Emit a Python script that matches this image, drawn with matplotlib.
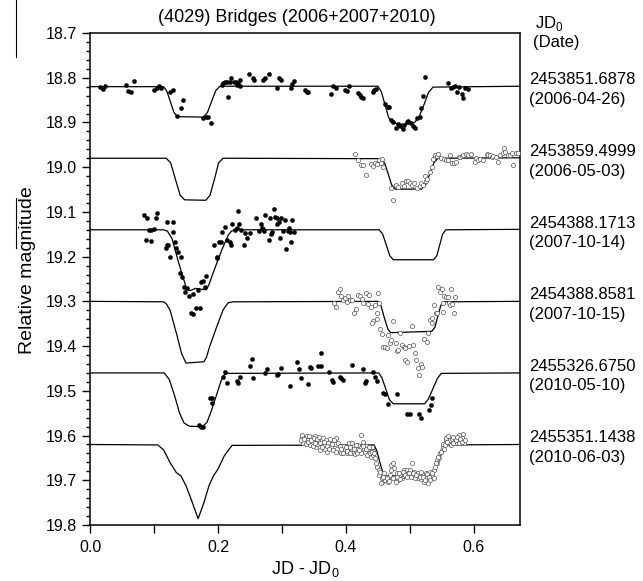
import matplotlib
matplotlib.use("Agg")
import matplotlib.pyplot as plt
from matplotlib.ticker import MultipleLocator, FixedLocator
from matplotlib.lines import Line2D

plt.rcParams['font.family'] = ['Liberation Sans', 'DejaVu Sans']
plt.rcParams['mathtext.fontset'] = 'custom'
plt.rcParams['mathtext.rm'] = 'Liberation Sans'

title = "(4029) Bridges (2006+2007+2010)"
jd_labels = ["2453851.6878", "2453859.4999", "2454388.1713", "2454388.8581", "2455326.6750", "2455351.1438"]
date_labels = ["(2006-04-26)", "(2006-05-03)", "(2007-10-14)", "(2007-10-15)", "(2010-05-10)", "(2010-06-03)"]
baselines = [18.82, 18.98, 19.14, 19.30, 19.46, 19.62]
filled = [True, False, True, False, True, False]

# model curves
c1_x = [0.000, 0.115, 0.120, 0.1255, 0.131, 0.136, 0.177, 0.1835, 0.190, 0.1965, 0.203, 0.450, 0.4555, 0.461, 0.4665, 0.472, 0.480, 0.490, 0.500, 0.508, 0.515, 0.522, 0.529, 0.536, 0.672]
c1_y = [18.820, 18.820, 18.830, 18.853, 18.877, 18.887, 18.888, 18.878, 18.853, 18.829, 18.819, 18.819, 18.832, 18.860, 18.888, 18.899, 18.903, 18.904, 18.903, 18.899, 18.885, 18.860, 18.833, 18.821, 18.819]
c2_x = [0.000, 0.119, 0.126, 0.1335, 0.141, 0.148, 0.181, 0.1875, 0.1945, 0.201, 0.208, 0.455, 0.4605, 0.466, 0.4715, 0.477, 0.518, 0.5245, 0.531, 0.5375, 0.544, 0.672]
c2_y = [18.980, 18.980, 18.990, 19.027, 19.063, 19.073, 19.074, 19.063, 19.027, 18.990, 18.980, 18.981, 18.991, 19.015, 19.040, 19.049, 19.049, 19.040, 19.015, 18.990, 18.980, 18.979]
c3_x = [0.000, 0.115, 0.121, 0.128, 0.138, 0.146, 0.151, 0.156, 0.165, 0.175, 0.182, 0.186, 0.193, 0.206, 0.216, 0.221, 0.226, 0.452, 0.4575, 0.463, 0.4685, 0.474, 0.537, 0.542, 0.5465, 0.551, 0.556, 0.672]
c3_y = [19.140, 19.140, 19.143, 19.159, 19.211, 19.249, 19.272, 19.276, 19.271, 19.273, 19.274, 19.262, 19.234, 19.185, 19.152, 19.143, 19.140, 19.140, 19.150, 19.174, 19.198, 19.207, 19.207, 19.198, 19.174, 19.150, 19.140, 19.139]
c4_x = [0.000, 0.115, 0.119, 0.125, 0.135, 0.143, 0.150, 0.178, 0.182, 0.187, 0.198, 0.208, 0.216, 0.224, 0.450, 0.455, 0.460, 0.4655, 0.470, 0.534, 0.539, 0.5435, 0.548, 0.552, 0.672]
c4_y = [19.300, 19.301, 19.305, 19.319, 19.371, 19.416, 19.438, 19.435, 19.425, 19.401, 19.357, 19.319, 19.303, 19.301, 19.300, 19.311, 19.337, 19.362, 19.370, 19.367, 19.358, 19.334, 19.310, 19.301, 19.300]
c5_x = [0.000, 0.116, 0.124, 0.132, 0.140, 0.147, 0.155, 0.170, 0.178, 0.183, 0.190, 0.198, 0.205, 0.210, 0.215, 0.451, 0.456, 0.462, 0.468, 0.474, 0.523, 0.529, 0.536, 0.543, 0.549, 0.672]
c5_y = [19.460, 19.460, 19.475, 19.510, 19.550, 19.572, 19.579, 19.580, 19.577, 19.570, 19.543, 19.508, 19.477, 19.464, 19.461, 19.460, 19.470, 19.495, 19.520, 19.529, 19.529, 19.518, 19.495, 19.472, 19.461, 19.460]
c6_x = [0.000, 0.106, 0.115, 0.125, 0.135, 0.142, 0.150, 0.160, 0.169, 0.178, 0.186, 0.193, 0.200, 0.210, 0.222, 0.444, 0.4485, 0.4525, 0.457, 0.461, 0.534, 0.5395, 0.545, 0.551, 0.557, 0.672]
c6_y = [19.620, 19.621, 19.632, 19.660, 19.683, 19.690, 19.712, 19.750, 19.786, 19.750, 19.712, 19.690, 19.675, 19.645, 19.622, 19.621, 19.635, 19.657, 19.680, 19.690, 19.690, 19.678, 19.655, 19.632, 19.621, 19.620]

# observations
d1_x = [0.016, 0.020, 0.023, 0.056, 0.060, 0.064, 0.068, 0.100, 0.104, 0.108, 0.111, 0.125, 0.129, 0.142, 0.146, 0.136, 0.177, 0.181, 0.185, 0.189, 0.206, 0.208, 0.211, 0.214, 0.215, 0.219, 0.221, 0.225, 0.228, 0.229, 0.232, 0.234, 0.235, 0.249, 0.254, 0.256, 0.271, 0.274, 0.279, 0.292, 0.295, 0.299, 0.314, 0.316, 0.319, 0.336, 0.339, 0.341, 0.376, 0.379, 0.384, 0.398, 0.401, 0.405, 0.419, 0.422, 0.424, 0.427, 0.442, 0.444, 0.447, 0.461, 0.465, 0.467, 0.471, 0.474, 0.478, 0.482, 0.485, 0.489, 0.491, 0.495, 0.497, 0.501, 0.505, 0.508, 0.511, 0.516, 0.517, 0.521, 0.524, 0.560, 0.564, 0.568, 0.571, 0.574, 0.577, 0.581, 0.583, 0.586, 0.590]
d1_y = [18.820, 18.825, 18.818, 18.816, 18.830, 18.831, 18.807, 18.827, 18.822, 18.818, 18.822, 18.831, 18.827, 18.868, 18.850, 18.886, 18.889, 18.887, 18.887, 18.902, 18.816, 18.812, 18.810, 18.809, 18.842, 18.810, 18.800, 18.809, 18.810, 18.816, 18.812, 18.805, 18.818, 18.792, 18.801, 18.806, 18.804, 18.800, 18.792, 18.822, 18.800, 18.806, 18.822, 18.815, 18.807, 18.827, 18.831, 18.833, 18.837, 18.818, 18.822, 18.827, 18.830, 18.818, 18.835, 18.839, 18.842, 18.846, 18.831, 18.828, 18.825, 18.859, 18.865, 18.865, 18.894, 18.898, 18.913, 18.904, 18.909, 18.915, 18.906, 18.898, 18.897, 18.902, 18.909, 18.913, 18.891, 18.887, 18.868, 18.840, 18.798, 18.812, 18.822, 18.820, 18.818, 18.833, 18.820, 18.837, 18.846, 18.824, 18.825]

d2_x = [0.414, 0.419, 0.423, 0.427, 0.431, 0.439, 0.443, 0.445, 0.448, 0.452, 0.454, 0.456, 0.458, 0.470, 0.473, 0.478, 0.482, 0.487, 0.491, 0.494, 0.497, 0.500, 0.504, 0.506, 0.511, 0.515, 0.518, 0.521, 0.523, 0.525, 0.527, 0.531, 0.534, 0.536, 0.539, 0.542, 0.544, 0.549, 0.553, 0.556, 0.560, 0.562, 0.565, 0.569, 0.572, 0.576, 0.578, 0.581, 0.583, 0.587, 0.591, 0.595, 0.602, 0.604, 0.607, 0.609, 0.614, 0.620, 0.622, 0.625, 0.628, 0.630, 0.634, 0.638, 0.641, 0.645, 0.647, 0.648, 0.654, 0.656, 0.659, 0.661, 0.666, 0.669]
d2_y = [18.971, 18.985, 18.995, 18.995, 19.017, 18.993, 18.997, 18.991, 18.993, 18.985, 18.990, 18.982, 18.999, 19.047, 19.073, 19.040, 19.044, 19.036, 19.042, 19.030, 19.032, 19.036, 19.040, 19.035, 19.047, 19.042, 19.036, 19.040, 19.020, 19.030, 19.027, 19.010, 18.999, 18.982, 18.973, 18.975, 18.971, 18.980, 18.982, 18.985, 18.984, 18.973, 18.991, 18.990, 18.988, 18.978, 18.978, 18.975, 18.973, 18.971, 18.973, 18.971, 18.988, 18.980, 18.985, 18.982, 18.984, 18.971, 18.973, 18.973, 18.977, 18.975, 18.978, 18.988, 18.973, 18.969, 18.958, 18.965, 18.973, 18.973, 18.969, 18.995, 18.969, 18.968]

d3_x = [0.085, 0.089, 0.092, 0.096, 0.100, 0.087, 0.096, 0.103, 0.104, 0.118, 0.120, 0.122, 0.125, 0.121, 0.129, 0.130, 0.133, 0.135, 0.138, 0.142, 0.141, 0.144, 0.147, 0.151, 0.148, 0.154, 0.161, 0.158, 0.161, 0.165, 0.172, 0.169, 0.174, 0.177, 0.180, 0.182, 0.194, 0.198, 0.199, 0.202, 0.205, 0.207, 0.211, 0.214, 0.219, 0.221, 0.222, 0.226, 0.229, 0.231, 0.233, 0.236, 0.241, 0.243, 0.246, 0.250, 0.260, 0.264, 0.267, 0.269, 0.271, 0.272, 0.274, 0.279, 0.281, 0.283, 0.285, 0.288, 0.289, 0.292, 0.293, 0.295, 0.297, 0.299, 0.302, 0.305, 0.307, 0.309, 0.311, 0.313, 0.314, 0.316, 0.319]
d3_y = [19.107, 19.113, 19.140, 19.140, 19.138, 19.163, 19.165, 19.114, 19.103, 19.180, 19.174, 19.174, 19.200, 19.122, 19.122, 19.144, 19.167, 19.181, 19.190, 19.200, 19.237, 19.245, 19.269, 19.271, 19.280, 19.287, 19.284, 19.327, 19.329, 19.314, 19.314, 19.275, 19.257, 19.254, 19.267, 19.243, 19.175, 19.204, 19.200, 19.168, 19.167, 19.144, 19.133, 19.163, 19.167, 19.174, 19.128, 19.140, 19.137, 19.098, 19.128, 19.140, 19.174, 19.148, 19.158, 19.148, 19.113, 19.143, 19.126, 19.137, 19.138, 19.143, 19.107, 19.163, 19.114, 19.150, 19.144, 19.094, 19.111, 19.113, 19.126, 19.123, 19.159, 19.114, 19.143, 19.118, 19.183, 19.143, 19.137, 19.144, 19.167, 19.118, 19.144]

d4_x = [0.382, 0.384, 0.387, 0.391, 0.393, 0.396, 0.398, 0.401, 0.403, 0.406, 0.409, 0.413, 0.415, 0.419, 0.422, 0.425, 0.427, 0.431, 0.434, 0.436, 0.439, 0.445, 0.448, 0.450, 0.452, 0.443, 0.448, 0.440, 0.453, 0.457, 0.458, 0.461, 0.464, 0.465, 0.469, 0.471, 0.474, 0.478, 0.479, 0.482, 0.484, 0.487, 0.490, 0.493, 0.496, 0.493, 0.499, 0.503, 0.505, 0.508, 0.510, 0.512, 0.514, 0.517, 0.519, 0.522, 0.526, 0.529, 0.531, 0.534, 0.535, 0.538, 0.540, 0.542, 0.544, 0.547, 0.550, 0.551, 0.552, 0.554, 0.557, 0.559, 0.561, 0.563, 0.564, 0.566, 0.569, 0.571]
d4_y = [19.304, 19.313, 19.278, 19.273, 19.288, 19.298, 19.293, 19.301, 19.288, 19.298, 19.297, 19.327, 19.316, 19.286, 19.289, 19.295, 19.303, 19.281, 19.306, 19.286, 19.312, 19.308, 19.325, 19.282, 19.304, 19.345, 19.340, 19.348, 19.362, 19.373, 19.401, 19.401, 19.405, 19.375, 19.394, 19.386, 19.343, 19.394, 19.410, 19.409, 19.371, 19.398, 19.401, 19.431, 19.435, 19.405, 19.400, 19.355, 19.398, 19.416, 19.431, 19.450, 19.465, 19.440, 19.446, 19.385, 19.390, 19.370, 19.342, 19.349, 19.338, 19.308, 19.325, 19.327, 19.269, 19.278, 19.273, 19.303, 19.323, 19.288, 19.290, 19.291, 19.303, 19.308, 19.273, 19.306, 19.327, 19.290]

d5_x = [0.170, 0.173, 0.176, 0.188, 0.191, 0.190, 0.208, 0.211, 0.214, 0.229, 0.232, 0.234, 0.250, 0.253, 0.255, 0.274, 0.276, 0.292, 0.294, 0.299, 0.313, 0.323, 0.327, 0.330, 0.341, 0.344, 0.346, 0.357, 0.361, 0.361, 0.374, 0.378, 0.380, 0.391, 0.393, 0.396, 0.409, 0.426, 0.429, 0.431, 0.443, 0.445, 0.448, 0.458, 0.461, 0.465, 0.479, 0.496, 0.500, 0.514, 0.517, 0.530, 0.533, 0.535]
d5_y = [19.577, 19.580, 19.582, 19.517, 19.517, 19.528, 19.470, 19.457, 19.482, 19.479, 19.483, 19.470, 19.444, 19.429, 19.472, 19.461, 19.452, 19.465, 19.463, 19.448, 19.489, 19.435, 19.452, 19.472, 19.485, 19.446, 19.450, 19.444, 19.444, 19.416, 19.459, 19.476, 19.480, 19.468, 19.472, 19.476, 19.442, 19.452, 19.483, 19.478, 19.457, 19.468, 19.479, 19.504, 19.506, 19.529, 19.507, 19.552, 19.552, 19.552, 19.561, 19.543, 19.532, 19.517]

d6_x = [0.331, 0.333, 0.336, 0.339, 0.341, 0.344, 0.346, 0.349, 0.352, 0.353, 0.355, 0.357, 0.359, 0.360, 0.364, 0.365, 0.367, 0.369, 0.371, 0.372, 0.375, 0.376, 0.379, 0.380, 0.383, 0.384, 0.386, 0.388, 0.391, 0.393, 0.395, 0.397, 0.398, 0.401, 0.404, 0.405, 0.406, 0.409, 0.410, 0.413, 0.414, 0.417, 0.419, 0.423, 0.424, 0.427, 0.428, 0.430, 0.432, 0.433, 0.435, 0.438, 0.439, 0.440, 0.442, 0.443, 0.445, 0.447, 0.449, 0.451, 0.452, 0.453, 0.456, 0.457, 0.459, 0.461, 0.463, 0.465, 0.466, 0.469, 0.471, 0.473, 0.475, 0.477, 0.479, 0.482, 0.484, 0.487, 0.490, 0.491, 0.494, 0.496, 0.497, 0.500, 0.503, 0.504, 0.506, 0.509, 0.512, 0.513, 0.516, 0.518, 0.521, 0.522, 0.525, 0.526, 0.529, 0.531, 0.534, 0.537, 0.539, 0.542, 0.543, 0.546, 0.547, 0.550, 0.551, 0.552, 0.555, 0.556, 0.557, 0.560, 0.562, 0.563, 0.565, 0.568, 0.569, 0.570, 0.573, 0.576, 0.578, 0.581, 0.583, 0.584,
        0.330, 0.332, 0.334, 0.338, 0.340, 0.343, 0.345, 0.348, 0.350, 0.352, 0.354, 0.358, 0.362, 0.366, 0.370, 0.374, 0.378, 0.381, 0.385, 0.390, 0.392, 0.396, 0.400, 0.402, 0.407, 0.412, 0.416, 0.418, 0.421, 0.426, 0.431, 0.436, 0.440, 0.444, 0.454, 0.458, 0.464, 0.468, 0.470, 0.474, 0.478, 0.480, 0.483, 0.485, 0.489, 0.492, 0.495, 0.499, 0.501, 0.505, 0.508, 0.510, 0.515, 0.517, 0.520, 0.524, 0.527, 0.530, 0.532, 0.535, 0.538, 0.540, 0.544, 0.548, 0.553, 0.558, 0.564, 0.567, 0.572, 0.574, 0.577, 0.579, 0.582, 0.586]
d6_y = [19.603, 19.617, 19.606, 19.601, 19.610, 19.621, 19.604, 19.614, 19.601, 19.625, 19.619, 19.610, 19.632, 19.616, 19.606, 19.621, 19.629, 19.611, 19.636, 19.617, 19.608, 19.625, 19.614, 19.632, 19.619, 19.606, 19.629, 19.616, 19.636, 19.640, 19.623, 19.634, 19.629, 19.638, 19.617, 19.636, 19.626, 19.616, 19.638, 19.623, 19.641, 19.631, 19.621, 19.599, 19.640, 19.614, 19.629, 19.636, 19.623, 19.643, 19.631, 19.638, 19.647, 19.626, 19.634, 19.643, 19.651, 19.661, 19.670, 19.677, 19.688, 19.681, 19.696, 19.703, 19.684, 19.699, 19.692, 19.703, 19.696, 19.688, 19.666, 19.661, 19.673, 19.692, 19.683, 19.699, 19.688, 19.696, 19.690, 19.677, 19.681, 19.676, 19.684, 19.677, 19.688, 19.662, 19.681, 19.690, 19.696, 19.684, 19.690, 19.698, 19.688, 19.703, 19.684, 19.693, 19.705, 19.681, 19.688, 19.677, 19.670, 19.655, 19.662, 19.651, 19.640, 19.632, 19.625, 19.619, 19.621, 19.610, 19.606, 19.601, 19.619, 19.611, 19.608, 19.603, 19.614, 19.617, 19.608, 19.599, 19.611, 19.606, 19.597, 19.616,
        19.611, 19.599, 19.608, 19.619, 19.614, 19.602, 19.611, 19.623, 19.606, 19.617, 19.608, 19.604, 19.625, 19.614, 19.623, 19.631, 19.619, 19.610, 19.636, 19.623, 19.631, 19.640, 19.625, 19.634, 19.640, 19.629, 19.621, 19.638, 19.632, 19.623, 19.631, 19.625, 19.636, 19.638, 19.707, 19.692, 19.696, 19.701, 19.677, 19.696, 19.703, 19.692, 19.684, 19.698, 19.681, 19.688, 19.693, 19.683, 19.692, 19.684, 19.696, 19.688, 19.693, 19.681, 19.693, 19.699, 19.686, 19.692, 19.699, 19.684, 19.696, 19.662, 19.647, 19.636, 19.629, 19.614, 19.621, 19.616, 19.611, 19.604, 19.617, 19.608, 19.614, 19.610]

curves = [(c1_x, c1_y), (c2_x, c2_y), (c3_x, c3_y), (c4_x, c4_y), (c5_x, c5_y), (c6_x, c6_y)]
data = [(d1_x, d1_y), (d2_x, d2_y), (d3_x, d3_y), (d4_x, d4_y), (d5_x, d5_y), (d6_x, d6_y)]

fig = plt.figure(figsize=(6.43, 5.81), dpi=100)
ax = fig.add_axes([90/643, 1 - 525/581, 430/643, 492/581])

for (cx, cy) in curves:
    ax.plot(cx, cy, color='black', lw=0.9, zorder=2)

for (dx, dy), f in zip(data, filled):
    if f:
        ax.plot(dx, dy, 'o', ms=3.0, mfc='black', mec='black', mew=0.3, ls='none', zorder=3)
    else:
        ax.plot(dx, dy, 'o', ms=3.0, mfc='white', mec='#555555', mew=0.5, ls='none', zorder=3)

ax.set_xlim(0, 0.672)
ax.set_ylim(19.8, 18.7)

ax.xaxis.set_major_locator(FixedLocator([0.0, 0.2, 0.4, 0.6]))
ax.xaxis.set_minor_locator(FixedLocator([0.1, 0.3, 0.5]))
ax.yaxis.set_major_locator(MultipleLocator(0.1))
ax.yaxis.set_minor_locator(MultipleLocator(0.02))
ax.xaxis.set_major_formatter(plt.FuncFormatter(lambda v, p: f"{v:.1f}"))
ax.yaxis.set_major_formatter(plt.FuncFormatter(lambda v, p: f"{v:.1f}"))
ax.tick_params(axis='both', which='both', direction='out', top=False, right=False, labelsize=11.5, width=1.0)
ax.tick_params(axis='x', which='major', length=6, pad=5)
ax.tick_params(axis='x', which='minor', length=6)
ax.tick_params(axis='y', which='major', length=5.5, pad=4)
ax.tick_params(axis='y', which='minor', length=3)
for s in ax.spines.values():
    s.set_linewidth(1.1)

ax.set_xlabel(r"JD - JD$_\mathrm{0}$", fontsize=13, labelpad=3)
fig.text(28/643, 1 - 270/581, "Relative magnitude", rotation=90, ha='center', va='center', fontsize=14)
fig.text(297/643, 1 - 17/581, title, ha='center', va='center', fontsize=13)

tr = ax.get_yaxis_transform()
ax.text(1.035, 18.678, r"JD$_\mathrm{0}$", transform=tr, ha='left', va='center', fontsize=12, clip_on=False)
ax.text(1.03, 18.722, "(Date)", transform=tr, ha='left', va='center', fontsize=12, clip_on=False)
for jd, dt, b in zip(jd_labels, date_labels, baselines):
    ax.text(1.021, b - 0.015, jd, transform=tr, ha='left', va='center', fontsize=12, clip_on=False)
    ax.text(1.021, b + 0.029, dt, transform=tr, ha='left', va='center', fontsize=12, clip_on=False)

# stray vertical rule at the left edge of the source image
fig.add_artist(Line2D([16/643, 16/643], [1.0, 1 - 57/581], color='black', lw=0.8))
fig.add_artist(Line2D([16/643, 16/643], [1 - 198/581, 1 - 248/581], color='black', lw=0.8))

fig.savefig("out.png", dpi=100)
